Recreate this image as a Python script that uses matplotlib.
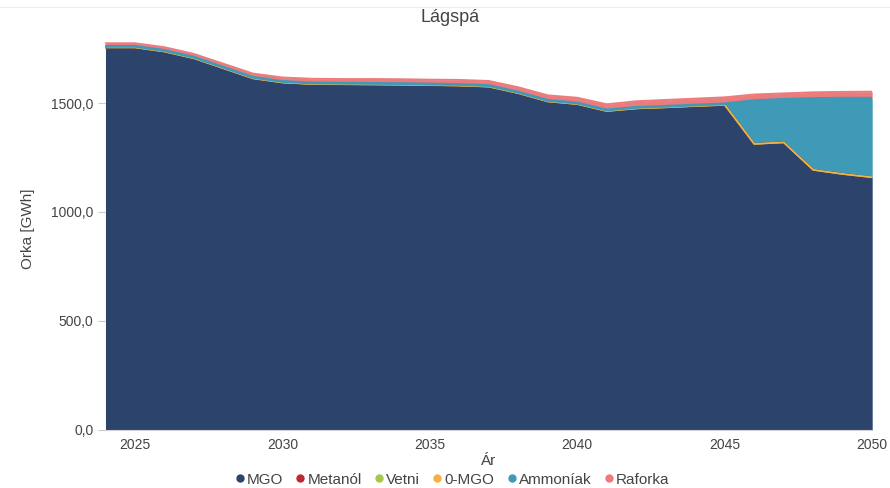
import numpy as np
import matplotlib.pyplot as plt
from matplotlib.lines import Line2D

years = np.arange(2024, 2051)
mgo = [1755, 1755, 1736, 1705, 1659, 1613, 1594, 1587, 1586, 1585, 1584, 1582, 1580, 1575,
       1545, 1507, 1495, 1463, 1475, 1480, 1486, 1491, 1312, 1319, 1193, 1174, 1159]
metanol = [0] * 27
vetni = [0] * 27
zero_mgo = [0] * 27
ammoniak = [5] * 22 + [199, 198, 328, 348, 363]
raforka = [14, 14, 15, 15, 16, 17, 18, 19, 19, 20, 20, 20, 21, 21, 22, 23, 24, 26, 28, 29,
           29, 30, 28, 27, 28, 29, 30]

names = ['MGO', 'Metanól', 'Vetni', '0-MGO', 'Ammoníak', 'Raforka']
series = [mgo, metanol, vetni, zero_mgo, ammoniak, raforka]
colors = ['#2c446c', '#c0282d', '#a5c74f', '#f5b045', '#3f9ab8', '#ec7b7e']
widths = [1.4, 1.0, 1.0, 1.2, 2.0, 1.4]

plt.rcParams['font.family'] = ['Liberation Sans', 'DejaVu Sans']

fig = plt.figure(figsize=(8.9, 4.88), dpi=100)
ax = fig.add_axes([0.1185, 0.119, 0.8615, 0.824])

base = np.zeros(len(years))
tops = []
for vals, c in zip(series, colors):
    top = base + np.array(vals, dtype=float)
    ax.fill_between(years, base, top, color=c, lw=0, zorder=2)
    tops.append(top)
    base = top
for top, c, w in zip(tops, colors, widths):
    ax.plot(years, top, color=c, lw=w, zorder=3)

ax.set_xlim(2024, 2050)
ax.set_ylim(0, 1845)
ax.set_yticks([0, 500, 1000, 1500])
ax.set_yticklabels(['0,0', '500,0', '1000,0', '1500,0'])
ax.set_xticks([2025, 2030, 2035, 2040, 2045, 2050])
ax.grid(axis='y', color='#e6e6e6', lw=0.8, zorder=0)
for s in ['top', 'right', 'left']:
    ax.spines[s].set_visible(False)
ax.spines['bottom'].set_color('#d0d0d0')
ax.tick_params(axis='y', colors='#444444', labelsize=10, length=5, color='#cccccc')
ax.tick_params(axis='x', colors='#444444', labelsize=10, length=0, pad=6)
ax.set_ylabel('Orka [GWh]', fontsize=11, color='#444444', labelpad=12)
ax.set_xlabel('Ár', fontsize=11, color='#444444', labelpad=1)
fig.text(0.506, 0.965, 'Lágspá', ha='center', va='center', fontsize=13, color='#444444')
fig.add_artist(Line2D([0, 1], [0.985, 0.985], color='#eeeeee', lw=0.8))

handles = [Line2D([], [], marker='o', ls='none', color=c, markersize=5) for c in colors]
fig.legend(handles, names, loc='center', bbox_to_anchor=(0.508, 0.017), ncol=6, frameon=False,
           fontsize=11, handlelength=0.6, handletextpad=0.15, columnspacing=0.85,
           labelcolor='#444444')

fig.savefig('out.png', dpi=100)
